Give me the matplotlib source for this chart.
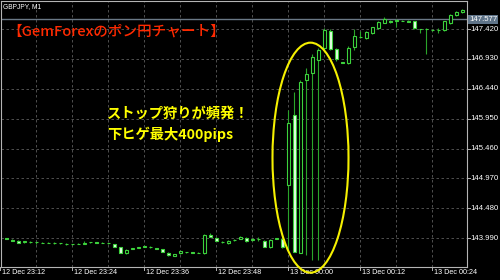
import numpy as np
import matplotlib
matplotlib.use('Agg')
import matplotlib.pyplot as plt
from matplotlib.patches import Ellipse
from matplotlib.transforms import blended_transform_factory

# GBPJPY M1, bars from 12 Dec 23:13 (bar index = minutes after 23:12)
bar_idx = list(range(1, 78))
opens = [143.987, 143.957, 143.941, 143.921, 143.929, 143.926, 143.919, 143.918, 143.913, 143.908,
         143.898, 143.893, 143.898, 143.903, 143.921, 143.923, 143.919, 143.913, 143.893, 143.842,
         143.744, 143.818, 143.834, 143.850, 143.854, 143.828, 143.810, 143.754, 143.706, 143.744,
         143.765, 143.759, 143.755, 143.744, 144.050, 143.988, 143.921, 143.905, 143.959, 143.982,
         143.998, 143.964, 143.970, 143.946, 143.842, 143.985, 143.973, 144.863, 146.010, 143.749,
         146.584, 146.694, 146.912, 147.108, 147.392, 147.087, 146.876, 146.858, 147.117, 147.297,
         147.267, 147.359, 147.436, 147.523, 147.556, 147.543, 147.557, 147.559, 147.546, 147.416,
         147.420, 147.400, 147.400, 147.403, 147.513, 147.649, 147.698]
highs = [143.995, 143.970, 143.954, 143.950, 143.937, 143.934, 143.929, 143.926, 143.921, 143.916,
         143.905, 143.903, 143.909, 143.937, 143.929, 143.929, 143.926, 143.919, 143.900, 143.847,
         143.814, 143.834, 143.850, 143.867, 143.864, 143.834, 143.818, 143.760, 143.736, 143.785,
         143.773, 143.765, 143.765, 144.052, 144.077, 144.003, 143.942, 143.962, 143.978, 144.027,
         144.008, 143.995, 144.003, 143.962, 143.970, 143.998, 144.011, 146.092, 146.392, 146.584,
         146.776, 147.005, 147.104, 147.431, 147.420, 147.108, 146.887, 147.141, 147.415, 147.387,
         147.387, 147.461, 147.551, 147.616, 147.575, 147.592, 147.571, 147.571, 147.559, 147.428,
         147.431, 147.412, 147.431, 147.420, 147.666, 147.715, 147.748]
lows = [143.970, 143.942, 143.905, 143.913, 143.916, 143.901, 143.909, 143.908, 143.903, 143.896,
        143.883, 143.887, 143.893, 143.896, 143.913, 143.913, 143.909, 143.900, 143.847, 143.741,
        143.739, 143.810, 143.826, 143.842, 143.831, 143.811, 143.757, 143.700, 143.692, 143.736,
        143.752, 143.749, 143.746, 143.739, 144.008, 143.942, 143.906, 143.896, 143.946, 143.975,
        143.934, 143.946, 143.937, 143.847, 143.834, 143.978, 143.834, 143.782, 143.765, 143.744,
        143.716, 143.634, 143.634, 147.076, 147.076, 146.895, 146.863, 146.846, 147.076, 147.272,
        147.256, 147.346, 147.423, 147.515, 147.526, 147.457, 147.546, 147.535, 147.426, 147.349,
        147.010, 147.387, 147.349, 147.395, 147.502, 147.641, 147.690]
closes = [143.980, 143.947, 143.908, 143.937, 143.924, 143.921, 143.916, 143.914, 143.909, 143.905,
          143.890, 143.896, 143.903, 143.919, 143.924, 143.919, 143.916, 143.908, 143.850, 143.749,
          143.805, 143.826, 143.842, 143.857, 143.841, 143.821, 143.762, 143.713, 143.728, 143.778,
          143.760, 143.755, 143.751, 144.036, 144.014, 143.949, 143.926, 143.952, 143.965, 144.014,
          143.942, 143.970, 143.975, 143.854, 143.962, 143.991, 143.842, 145.874, 143.770, 146.556,
          146.677, 146.966, 147.076, 147.403, 147.087, 146.928, 146.866, 147.104, 147.305, 147.292,
          147.371, 147.448, 147.535, 147.584, 147.535, 147.567, 147.554, 147.539, 147.431, 147.423,
          147.416, 147.405, 147.405, 147.556, 147.649, 147.693, 147.731]

price_levels = [147.420, 146.930, 146.440, 145.950, 145.460, 144.970, 144.480, 143.990]
current_price = 147.577
time_label_idx = [0, 12, 24, 36, 48, 60, 72]
time_labels = ['12 Dec 23:12', '12 Dec 23:24', '12 Dec 23:36', '12 Dec 23:48',
               '13 Dec 00:00', '13 Dec 00:12', '13 Dec 00:24']
symbol_label = 'GBPJPY, M1'
title_text = '【GemForexのポン円チャート】'
note_lines = ['ストップ狩りが頻発！', '下ヒゲ最大400pips']

plt.rcParams['font.family'] = ['Noto Sans CJK JP', 'DejaVu Sans']

green = '#3cd23c'
wick_green = '#2aa52a'
bear_fill = '#e6ffe6'
grid_col = '#5c5c5c'
frame_col = '#b4b4b4'

fig = plt.figure(figsize=(5, 2.8), dpi=100, facecolor='black')
ax = fig.add_axes([1 / 500, 13 / 280, 466 / 500, 266 / 280])
ax.set_facecolor('black')
ax.set_xlim(1 / 6, 467 / 6)
ax.set_ylim(143.519, 147.879)

# grid
for p in price_levels:
    ax.axhline(p, color=grid_col, lw=0.6, ls=(0, (3, 3)), zorder=0)
for gx in range(6, 78, 6):
    ax.axvline(gx, color=grid_col, lw=0.6, ls=(0, (3, 3)), zorder=0)

# current price line
ax.axhline(current_price, color='#6a7886', lw=1.0, zorder=1)

o = np.array(opens)
c = np.array(closes)
x = np.array(bar_idx)
ax.vlines(x, lows, highs, color=wick_green, lw=0.8, zorder=2)
bull = c >= o
body_low = np.minimum(o, c)
body_h = np.abs(c - o)
ax.bar(x[bull], body_h[bull], width=0.5, bottom=body_low[bull], facecolor='black',
       edgecolor=green, lw=0.8, zorder=3)
ax.bar(x[~bull], body_h[~bull], width=0.5, bottom=body_low[~bull], facecolor=bear_fill,
       edgecolor=green, lw=0.8, zorder=3)

for s in ax.spines.values():
    s.set_color(frame_col)
    s.set_linewidth(0.8)
ax.set_xticks([])
ax.set_yticks([])

# right price scale
trans_r = blended_transform_factory(ax.transAxes, ax.transData)
for p in price_levels:
    ax.plot([1.0, 1.007], [p, p], color=frame_col, lw=0.7, transform=trans_r, clip_on=False)
    ax.text(1.008, p, '%.3f' % p, transform=trans_r, color='white', fontsize=5.6,
            family='Liberation Sans', va='center', ha='left')
ax.text(1.004, current_price, '%.3f' % current_price, transform=trans_r, color='white',
        fontsize=5.6, family='Liberation Sans', va='center', ha='left',
        bbox=dict(boxstyle='square,pad=0.15', fc='#5f7489', ec='none'))

# time scale
trans_b = blended_transform_factory(ax.transData, ax.transAxes)
for i, lab in zip(time_label_idx, time_labels):
    ax.plot([i, i], [0, -0.01], color=frame_col, lw=0.7, transform=trans_b, clip_on=False)
    ax.text(i + 0.3, -0.008, lab, transform=trans_b, color='white', fontsize=5.2,
            family='Liberation Sans', va='top', ha='left')

fig.text(3 / 500, 1 - 7 / 280, symbol_label, color='white', fontsize=4.8,
         family='Liberation Sans', va='center', ha='left')
fig.text(7 / 500, 1 - 31.5 / 280, title_text, color='#ff2a00', fontsize=10.5,
         fontweight='medium', va='center', ha='left')
fig.text(107 / 500, 1 - 114 / 280, note_lines[0], color='#ffff00', fontsize=10.3,
         fontweight='bold', va='center', ha='left')
fig.text(107 / 500, 1 - 134 / 280, note_lines[1], color='#ffff00', fontsize=10.3,
         fontweight='bold', va='center', ha='left')

# highlight ring around the spike
ring = Ellipse((51.75, 145.311), 12.67, 3.77, fill=False, edgecolor='#f5f000',
               lw=1.5, zorder=5, clip_on=False)
ax.add_patch(ring)

fig.savefig('out.png', dpi=100, facecolor='black')
